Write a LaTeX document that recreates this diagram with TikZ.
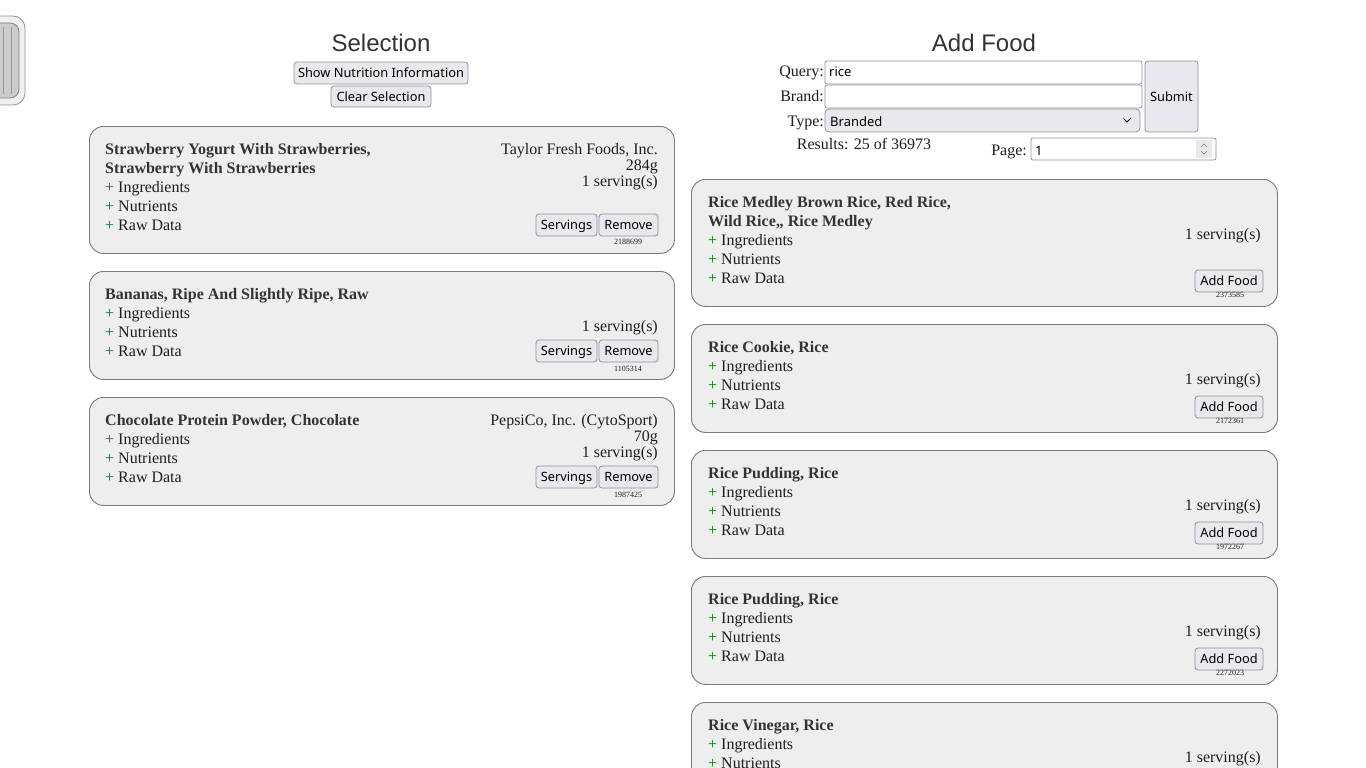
\documentclass[tikz,border=0pt]{standalone}
\usepackage{fontspec}
\setmainfont{Liberation Serif}
\newfontfamily\uifont{Noto Sans}
\newfontfamily\headfont{Liberation Sans}
\definecolor{cardfill}{HTML}{EEEEEE}
\definecolor{cardborder}{HTML}{7A7A7A}
\definecolor{btnfill}{HTML}{E9E9ED}
\definecolor{btnborder}{HTML}{8F8F9D}
\definecolor{txtcol}{HTML}{1E1E1E}
\definecolor{headcol}{HTML}{333333}
\definecolor{plusgreen}{HTML}{007A00}
\definecolor{tabfill}{HTML}{CCCCCC}
\newcommand\plusmark{\textcolor{plusgreen}{+}\ }
\tikzset{
  card/.style={draw=cardborder, fill=cardfill, rounded corners=14pt, line width=0.9pt, inner sep=0pt},
  btn/.style={draw=btnborder, fill=btnfill, rounded corners=3pt, line width=0.8pt, inner sep=0pt,
    text height=9.4pt, text depth=0pt,
    font=\uifont\fontsize{12.8}{15}\selectfont, text=black},
  field/.style={draw=btnborder, fill=white, rounded corners=2pt, line width=0.8pt},
  txt/.style={anchor=base west, inner sep=0pt, font=\fontsize{16}{19}\selectfont, text=txtcol},
  rtxt/.style={anchor=base east, inner sep=0pt, font=\fontsize{16}{19}\selectfont, text=txtcol},
  btxt/.style={anchor=base west, inner sep=0pt, font=\fontsize{16}{19}\selectfont\bfseries, text=headcol},
  idtxt/.style={inner sep=0pt, font=\fontsize{8}{9}\selectfont, text=txtcol},
  uitxt/.style={anchor=base west, inner sep=0pt, font=\uifont\fontsize{13}{15}\selectfont, text=black},
  head/.style={inner sep=0pt, font=\headfont\fontsize{24}{28}\selectfont, text=headcol},
}
% right-hand result card: #1 name, #2 top, #3 title, #4 id
\newcommand\ResultCard[4]{%
  \node[card, minimum width=586pt, minimum height=108pt, anchor=north west] (#1) at (691,#2) {};
  \node[btxt] (#1t) at (708,#2+28) {#3};
  \node[txt] (#1i) at (708,#2+47) {\plusmark Ingredients};
  \node[txt] (#1n) at (708,#2+66) {\plusmark Nutrients};
  \node[txt] (#1r) at (708,#2+85) {\plusmark Raw Data};
  \node[rtxt] (#1s) at (1261,#2+60) {1 serving(s)};
  \node[btn, minimum width=68pt, minimum height=22pt] (#1b) at (1229,#2+83) {Add Food};
  \node[idtxt] (#1d) at (1230,#2+97) {#4};
}
\begin{document}
\begin{tikzpicture}[x=1pt, y=-1pt]
\useasboundingbox (0,0) rectangle (1366,768);
\fill[white] (0,0) rectangle (1366,768);

% left side tab
\draw[draw=btnborder, fill=white!94!black, rounded corners=12pt, line width=0.8pt] (-20,16) rectangle (25,105);
\draw[draw=gray, fill=tabfill, rounded corners=9pt, line width=0.8pt] (-20,23) rectangle (19,98);
\draw[gray!80, line width=0.6pt] (3,27) -- (3,94);
\draw[gray!80, line width=0.6pt] (11,27) -- (11,94);

% ---------------- Selection column ----------------
\node[head] (selhead) at (381,43) {Selection};
\node[btn, minimum width=174pt, minimum height=22pt] (shownut) at (381,73) {Show Nutrition Information};
\node[btn, minimum width=100pt, minimum height=21pt] (clearsel) at (381,96.5) {Clear Selection};

% card 1
\node[card, minimum width=585pt, minimum height=127pt, anchor=north west] (lc1) at (89,126) {};
\node[btxt] (lc1t) at (105,154) {Strawberry Yogurt With Strawberries,};
\node[btxt] (lc1u) at (105,173) {Strawberry With Strawberries};
\node[txt] (lc1i) at (105,192) {\plusmark Ingredients};
\node[txt] (lc1n) at (105,211) {\plusmark Nutrients};
\node[txt] (lc1r) at (105,230) {\plusmark Raw Data};
\node[rtxt] (lc1b) at (658,154) {Taylor Fresh Foods, Inc.};
\node[rtxt] (lc1g) at (658,170) {284g};
\node[rtxt] (lc1s) at (658,186) {1 serving(s)};
\node[btn, minimum width=61pt, minimum height=22pt] (lc1sv) at (566.5,225) {Servings};
\node[btn, minimum width=59pt, minimum height=22pt] (lc1rm) at (628.5,225) {Remove};
\node[idtxt] (lc1d) at (628,242) {2188699};

% card 2
\node[card, minimum width=585pt, minimum height=108pt, anchor=north west] (lc2) at (89,271) {};
\node[btxt] (lc2t) at (105,299) {Bananas, Ripe And Slightly Ripe, Raw};
\node[txt] (lc2i) at (105,318) {\plusmark Ingredients};
\node[txt] (lc2n) at (105,337) {\plusmark Nutrients};
\node[txt] (lc2r) at (105,356) {\plusmark Raw Data};
\node[rtxt] (lc2s) at (658,331) {1 serving(s)};
\node[btn, minimum width=61pt, minimum height=22pt] (lc2sv) at (566.5,351) {Servings};
\node[btn, minimum width=59pt, minimum height=22pt] (lc2rm) at (628.5,351) {Remove};
\node[idtxt] (lc2d) at (628,369) {1105314};

% card 3
\node[card, minimum width=585pt, minimum height=108pt, anchor=north west] (lc3) at (89,397) {};
\node[btxt] (lc3t) at (105,425) {Chocolate Protein Powder, Chocolate};
\node[txt] (lc3i) at (105,444) {\plusmark Ingredients};
\node[txt] (lc3n) at (105,463) {\plusmark Nutrients};
\node[txt] (lc3r) at (105,482) {\plusmark Raw Data};
\node[rtxt] (lc3b) at (658,425) {PepsiCo, Inc. (CytoSport)};
\node[rtxt] (lc3g) at (658,441) {70g};
\node[rtxt] (lc3s) at (658,457) {1 serving(s)};
\node[btn, minimum width=61pt, minimum height=22pt] (lc3sv) at (566.5,477) {Servings};
\node[btn, minimum width=59pt, minimum height=22pt] (lc3rm) at (628.5,477) {Remove};
\node[idtxt] (lc3d) at (628,495) {1987425};

% ---------------- Add Food column ----------------
\node[head] (addhead) at (984,43) {Add Food};
\node[rtxt] (qlab) at (824,77) {Query:};
\draw[field] (825,61) rectangle (1142,84);
\node[uitxt] (qval) at (829,77) {rice};
\node[rtxt] (blab) at (824,101) {Brand:};
\draw[field] (825,85) rectangle (1142,108);
\node[rtxt] (tlab) at (824,126) {Type:};
\draw[field, fill=btnfill, rounded corners=4pt] (825,109) rectangle (1140,132);
\node[uitxt] (tval) at (830,126) {Branded};
\draw[black, line width=1pt] (1123.5,118.5) -- (1127,122) -- (1130.5,118.5);
\node[btn, minimum width=53pt, minimum height=71pt] (submit) at (1171.5,96.5) {Submit};
\node[inner sep=0pt, anchor=base, font=\fontsize{16}{19}\selectfont, text=txtcol] (results) at (864,149) {Results: 25 of 36973};
\node[rtxt] (plab) at (1027,155) {Page:};
\draw[field] (1031,138) rectangle (1216,160);
\node[uitxt] (pval) at (1035,155) {1};
\fill[btnfill] (1196,140) rectangle (1212,158);
\draw[gray, line width=0.6pt] (1201,147) -- (1204,144) -- (1207,147);
\draw[gray, line width=0.6pt] (1201,151) -- (1204,154) -- (1207,151);

% result card 1 (two-line title)
\node[card, minimum width=586pt, minimum height=127pt, anchor=north west] (rc1) at (691,179) {};
\node[btxt] (rc1t) at (708,207) {Rice Medley Brown Rice, Red Rice,};
\node[btxt] (rc1u) at (708,226) {Wild Rice,, Rice Medley};
\node[txt] (rc1i) at (708,245) {\plusmark Ingredients};
\node[txt] (rc1n) at (708,264) {\plusmark Nutrients};
\node[txt] (rc1r) at (708,283) {\plusmark Raw Data};
\node[rtxt] (rc1s) at (1261,239) {1 serving(s)};
\node[btn, minimum width=68pt, minimum height=22pt] (rc1b) at (1229,281) {Add Food};
\node[idtxt] (rc1d) at (1230,295) {2373585};

\ResultCard{rc2}{324}{Rice Cookie, Rice}{2172361}
\ResultCard{rc3}{450}{Rice Pudding, Rice}{1972267}
\ResultCard{rc4}{576}{Rice Pudding, Rice}{2272023}
\ResultCard{rc5}{702}{Rice Vinegar, Rice}{}
\end{tikzpicture}
\end{document}
